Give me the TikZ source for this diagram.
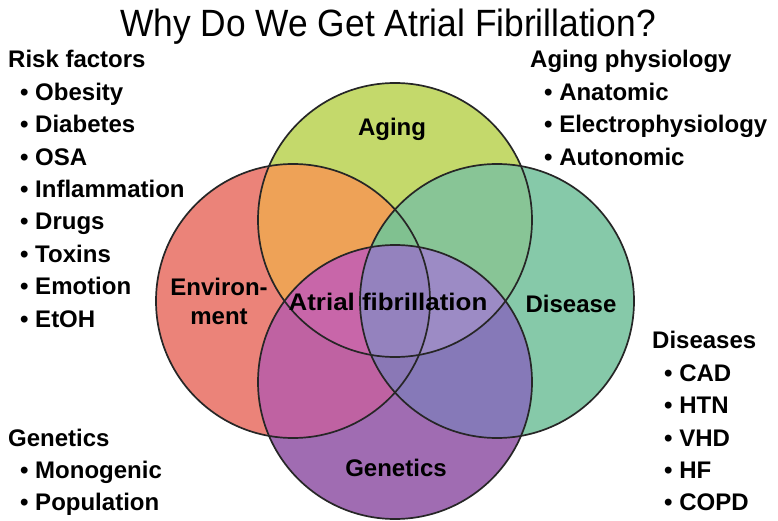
\documentclass[tikz,border=0pt]{standalone}
\usepackage{fontspec}
\setmainfont{Liberation Sans}
\begin{document}
\begin{tikzpicture}[x=1pt,y=-1pt,
  lbl/.style={font=\bfseries\fontsize{24}{26}\selectfont, text=black, inner sep=0pt, align=center},
  hdr/.style={font=\bfseries\fontsize{24}{26}\selectfont, anchor=mid west, inner sep=0pt, yshift=-6pt},
  itm/.style={font=\bfseries\fontsize{24}{26}\selectfont, anchor=mid west, inner sep=0pt, yshift=-6pt},
  ring/.style={circle, draw=black!85, line width=1.7pt, minimum size=274pt, inner sep=0pt}]
\definecolor{cA}{HTML}{C4D96B}
\definecolor{cE}{HTML}{EB8379}
\definecolor{cD}{HTML}{86C9A9}
\definecolor{cG}{HTML}{A06CB2}
\definecolor{cAE}{HTML}{EEA257}
\definecolor{cAD}{HTML}{88C596}
\definecolor{cEG}{HTML}{BF62A2}
\definecolor{cDG}{HTML}{8679B8}
\definecolor{cAED}{HTML}{80C190}
\definecolor{cAEG}{HTML}{C866A9}
\definecolor{cADG}{HTML}{9C8BC5}
\definecolor{cEDG}{HTML}{8A78B6}
\definecolor{cAll}{HTML}{9482BE}
\useasboundingbox (0,0) rectangle (778,521);
\def\pA{(395,220) circle[radius=137]}
\def\pE{(293,301) circle[radius=137]}
\def\pD{(497,301) circle[radius=137]}
\def\pG{(395,382) circle[radius=137]}
% base fills
\fill[cA] \pA; \fill[cE] \pE; \fill[cD] \pD; \fill[cG] \pG;
% pairs
\begin{scope}\clip \pA; \fill[cAE] \pE; \fill[cAD] \pD; \end{scope}
\begin{scope}\clip \pG; \fill[cEG] \pE; \fill[cDG] \pD; \end{scope}
% triples
\begin{scope}\clip \pA; \clip \pE; \fill[cAED] \pD; \fill[cAEG] \pG; \end{scope}
\begin{scope}\clip \pA; \clip \pD; \fill[cADG] \pG; \end{scope}
\begin{scope}\clip \pG; \clip \pE; \fill[cEDG] \pD; \end{scope}
% all four
\begin{scope}\clip \pA; \clip \pE; \clip \pD; \fill[cAll] \pG; \end{scope}
% outlines
\node[ring] (aging) at (395,220) {};
\node[ring] (env) at (293,301) {};
\node[ring] (dis) at (497,301) {};
\node[ring] (gen) at (395,382) {};
% circle labels
\node[lbl] (laging) at (392,129) {Aging};
\node[lbl] (lenv) at (219,301) {Environ-\\[3pt]ment};
\node[lbl] (ldis) at (571,304) {Disease};
\node[lbl] (lgen) at (396,468) {Genetics};
\node[lbl] (laf) at (388,302) {\scalebox{1.08}[1]{Atrial fibrillation}};
% title
\node[font=\fontsize{38}{40}\selectfont, inner sep=0pt, yshift=-4pt] (title) at (388,23) {\scalebox{0.93}[1]{Why Do We Get Atrial Fibrillation?}};
% risk factors
\node[hdr] (rf) at (8,59) {Risk factors};
\node[itm] (rf1) at (20,92) {• Obesity};
\node[itm] (rf2) at (20,124) {• Diabetes};
\node[itm] (rf3) at (20,157) {• OSA};
\node[itm] (rf4) at (20,189) {• Inflammation};
\node[itm] (rf5) at (20,221) {• Drugs};
\node[itm] (rf6) at (20,254) {• Toxins};
\node[itm] (rf7) at (20,286) {• Emotion};
\node[itm] (rf8) at (20,319) {• EtOH};
% aging physiology
\node[hdr] (ap) at (530,59) {Aging physiology};
\node[itm] (ap1) at (544,92) {• Anatomic};
\node[itm] (ap2) at (544,124) {• Electrophysiology};
\node[itm] (ap3) at (544,157) {• Autonomic};
% diseases
\node[hdr] (ds) at (652,340) {Diseases};
\node[itm] (ds1) at (664,373) {• CAD};
\node[itm] (ds2) at (664,405) {• HTN};
\node[itm] (ds3) at (664,438) {• VHD};
\node[itm] (ds4) at (664,470) {• HF};
\node[itm] (ds5) at (664,502) {• COPD};
% genetics
\node[hdr] (gn) at (8,438) {Genetics};
\node[itm] (gn1) at (20,470) {• Monogenic};
\node[itm] (gn2) at (20,502) {• Population};
\end{tikzpicture}
\end{document}
